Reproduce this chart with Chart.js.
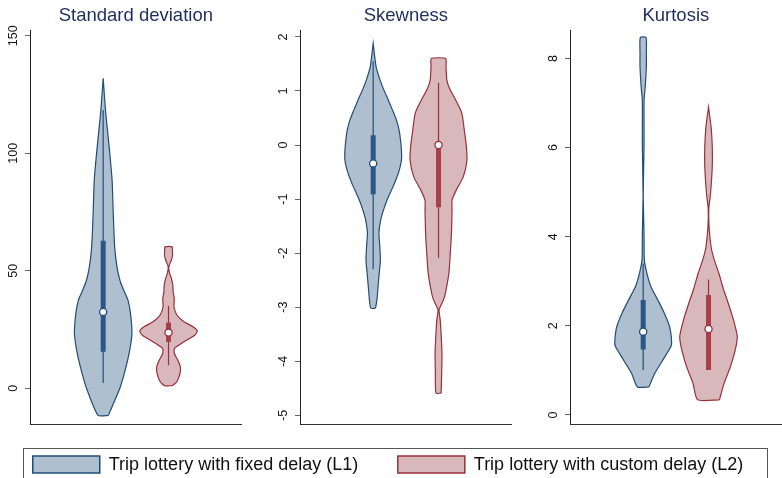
<!DOCTYPE html>
<html>
<head>
<meta charset="utf-8">
<script src="https://cdn.jsdelivr.net/npm/chart.js@4.4.0/dist/chart.umd.min.js"></script>
<style>
  html, body { margin: 0; padding: 0; background: #fff; overflow: hidden; }
  #fig { position: relative; width: 782px; height: 478px; overflow: hidden; background: #fff; }
  .panel { position: absolute; top: 0; }
  #legendFrame { position: absolute; left: 23px; top: 448px; width: 745px; height: 40px;
                 border: 1px solid #555; box-sizing: border-box; }
  #legendWrap { position: absolute; left: -62px; top: 416px; }
</style>
</head>
<body>
<div id="fig">
  <canvas class="panel" id="c0" width="247" height="444" style="left:0px"></canvas>
  <canvas class="panel" id="c1" width="247" height="444" style="left:270px"></canvas>
  <canvas class="panel" id="c2" width="247" height="444" style="left:540px"></canvas>
  <div id="legendFrame"></div>
  <canvas id="legendWrap" width="900" height="300"></canvas>
</div>
<script>
// ---- groups and panels ----
const groups = ['Trip lottery with fixed delay (L1)', 'Trip lottery with custom delay (L2)'];
const panelTitles = ['Standard deviation', 'Skewness', 'Kurtosis'];

// ---- y axis ticks per panel ----
const sdTicks = [0, 50, 100, 150];
const sdTickLabels = ['0', '50', '100', '150'];
const skewTicks = [-5, -4, -3, -2, -1, 0, 1, 2];
const skewTickLabels = ['-5', '-4', '-3', '-2', '-1', '0', '1', '2'];
const kurtTicks = [0, 2, 4, 6, 8];
const kurtTickLabels = ['0', '2', '4', '6', '8'];

// ---- y axis ranges per panel ----
const sdRange = [-15.2, 152.4];
const skewRange = [-5.161, 2.124];
const kurtRange = [-0.202, 8.635];

// ---- kernel density profiles (value levels, density relative to the peak) ----
// box summaries: [lower whisker, q1, median, q3, upper whisker]
const sdFixedLevels  = [-11.5, 0, 8.9, 16, 23.4, 31.9, 37.6, 41.8, 46.1, 51.7, 60.2, 74.4, 88.6, 100, 108.5, 118.4, 131.9];
const sdFixedDensity = [0.18, 0.58, 0.79, 0.92, 1.0, 0.95, 0.86, 0.71, 0.58, 0.48, 0.40, 0.35, 0.31, 0.23, 0.16, 0.08, 0];
const sdFixedBox     = [2.3, 15.5, 32.5, 62.8, 118.4];

const sdCustomLevels  = [1.1, 2.8, 6.4, 9.2, 12, 14.9, 17, 19.8, 22.7, 24.4, 26.2, 28.3, 31.2, 34.7, 38.3, 41.1, 43.9, 46.8, 48.9, 51.7, 54.6, 56.7, 59.5, 60.2];
const sdCustomDensity = [0.13, 0.29, 0.40, 0.41, 0.32, 0.20, 0.21, 0.54, 0.92, 1.0, 0.85, 0.54, 0.29, 0.19, 0.20, 0.16, 0.15, 0.10, 0.04, 0.01, 0.10, 0.14, 0.13, 0.13];
const sdCustomBox     = [9.8, 19.7, 23.7, 28, 35];

const skewFixedLevels  = [-3.02, -2.87, -2.68, -2.43, -2.13, -1.88, -1.63, -1.39, -1.2, -1.02, -0.71, -0.46, -0.22, 0.22, 0.46, 0.65, 0.83, 1.02, 1.2, 1.45, 1.88];
const skewFixedDensity = [0.08, 0.13, 0.16, 0.20, 0.25, 0.23, 0.20, 0.26, 0.36, 0.48, 0.74, 0.91, 0.99, 0.92, 0.81, 0.67, 0.53, 0.37, 0.24, 0.10, 0];
const skewFixedBox     = [-2.3, -0.91, -0.34, 0.18, 1.55];

const skewCustomLevels  = [-4.59, -4.22, -3.86, -3.49, -3.24, -3.05, -2.87, -2.74, -2.37, -2.0, -1.63, -1.2, -1.02, -0.83, -0.59, -0.28, -0.03, 0.22, 0.59, 0.83, 1.05, 1.2, 1.45, 1.6];
const skewCustomDensity = [0.09, 0.11, 0.12, 0.09, 0.06, 0.02, 0.17, 0.24, 0.36, 0.41, 0.45, 0.47, 0.47, 0.62, 0.86, 0.99, 0.97, 0.91, 0.81, 0.60, 0.38, 0.29, 0.26, 0.25];
const skewCustomBox     = [-2.09, -1.15, 0, -0.05, 1.15];

const kurtFixedLevels  = [0.63, 0.93, 1.23, 1.53, 1.64, 1.98, 2.28, 2.58, 2.88, 3.18, 3.48, 4.0, 4.97, 6.08, 7.06, 7.36, 7.81, 8.11, 8.47];
const kurtFixedDensity = [0.20, 0.40, 0.68, 0.96, 0.99, 0.92, 0.74, 0.51, 0.27, 0.13, 0.04, 0.03, 0.003, 0.03, 0.03, 0.07, 0.11, 0.11, 0.10];
const kurtFixedBox     = [1.01, 1.47, 1.87, 2.58, 3.4];

const kurtCustomLevels  = [0.34, 0.71, 1.08, 1.46, 1.76, 2.13, 2.58, 2.8, 3.18, 3.48, 3.77, 4.22, 4.63, 4.97, 5.57, 6.02, 6.46, 6.91];
const kurtCustomDensity = [0.38, 0.54, 0.76, 0.93, 1.0, 0.87, 0.65, 0.53, 0.36, 0.20, 0.09, 0.02, 0.01, 0.07, 0.13, 0.13, 0.09, 0];
const kurtCustomBox     = [1.01, 1.01, 1.93, 2.69, 3.04];

// ---- styling ----
const FONT = "'Liberation Sans', Arial, Helvetica, sans-serif";
const TITLE_COLOR = '#1f2d5c';
const palette = [
  { fill: '#aebfcf', line: '#214d78', box: '#2c5685' },
  { fill: '#d9b8bc', line: '#963039', box: '#a8404a' }
];
const X_MIN = -0.12, X_MAX = 3.12;      // category slots sit at x = 1 and x = 2
const HALF_WIDTH = 0.44;                // half width of a violin at peak density
const TICK_FONT_SIZE = 12.5;
const LABEL_CENTER_GAP = 11.5;          // gap from tick end to the centre of a rotated label

Chart.defaults.font.family = FONT;
Chart.defaults.color = '#111';

function measureWidest(labels) {
  const ctx = document.createElement('canvas').getContext('2d');
  ctx.font = TICK_FONT_SIZE + 'px ' + FONT;
  return Math.max(...labels.map(l => ctx.measureText(l).width));
}

// Datasets with a higher `order` are painted first, so the outline goes
// underneath the whiskers, the box and the median marker.
function violinDatasets(slot, levels, density, box, style) {
  const right = levels.map((y, k) => ({ x: slot + density[k] * HALF_WIDTH, y }));
  const left = levels.map((y, k) => ({ x: slot - density[k] * HALF_WIDTH, y })).reverse();
  return [
    { // density outline
      order: 4,
      data: right.concat(left, [right[0]]),
      showLine: true, fill: 'shape', tension: 0.2,
      backgroundColor: style.fill, borderColor: style.line, borderWidth: 1.2,
      pointRadius: 0
    },
    { // whiskers
      order: 3,
      data: [{ x: slot, y: box[0] }, { x: slot, y: box[4] }],
      showLine: true, fill: false, borderColor: style.line, borderWidth: 1.2, pointRadius: 0
    },
    { // interquartile box
      order: 2,
      data: [{ x: slot, y: box[1] }, { x: slot, y: box[3] }],
      showLine: true, fill: false, borderColor: style.box, borderWidth: 5,
      borderCapStyle: 'butt', pointRadius: 0
    },
    { // median
      order: 1,
      data: [{ x: slot, y: box[2] }],
      showLine: false, pointRadius: 3.6, pointBackgroundColor: '#ffffff',
      pointBorderColor: style.line, pointBorderWidth: 1.3
    }
  ];
}

function makePanel(canvasId, title, range, ticks, tickLabels, series) {
  const datasets = [];
  series.forEach((s, i) => {
    datasets.push(...violinDatasets(i + 1, s.levels, s.density, s.box, palette[i]));
  });
  const pad = LABEL_CENTER_GAP - measureWidest(tickLabels) / 2;
  return new Chart(document.getElementById(canvasId), {
    type: 'scatter',
    data: { datasets },
    options: {
      responsive: false,
      animation: false,
      layout: { padding: 0 },
      plugins: {
        legend: { display: false },
        tooltip: { enabled: false },
        title: {
          display: true, text: title, fullSize: false,
          color: TITLE_COLOR, font: { size: 18.5, weight: 'normal' },
          padding: { top: 5, bottom: 3 }
        }
      },
      scales: {
        x: {
          type: 'linear', min: X_MIN, max: X_MAX,
          grid: { display: false, drawTicks: false },
          ticks: { display: false },
          border: { display: true, color: '#333', width: 1 },
          afterFit: s => { s.height = 20; }
        },
        y: {
          type: 'linear', position: 'left', min: range[0], max: range[1],
          afterFit: s => { s.width = 30; },
          afterBuildTicks: s => { s.ticks = ticks.map(v => ({ value: v })); },
          grid: { display: true, drawOnChartArea: false, drawTicks: true, tickLength: 5, color: '#666' },
          border: { display: true, color: '#222', width: 1 },
          ticks: {
            minRotation: 90, maxRotation: 90, crossAlign: 'center', padding: pad,
            font: { size: TICK_FONT_SIZE }, color: '#111',
            callback: v => tickLabels[ticks.indexOf(v)]
          }
        }
      }
    }
  });
}

makePanel('c0', panelTitles[0], sdRange, sdTicks, sdTickLabels, [
  { levels: sdFixedLevels, density: sdFixedDensity, box: sdFixedBox },
  { levels: sdCustomLevels, density: sdCustomDensity, box: sdCustomBox }
]);
makePanel('c1', panelTitles[1], skewRange, skewTicks, skewTickLabels, [
  { levels: skewFixedLevels, density: skewFixedDensity, box: skewFixedBox },
  { levels: skewCustomLevels, density: skewCustomDensity, box: skewCustomBox }
]);
makePanel('c2', panelTitles[2], kurtRange, kurtTicks, kurtTickLabels, [
  { levels: kurtFixedLevels, density: kurtFixedDensity, box: kurtFixedBox },
  { levels: kurtCustomLevels, density: kurtCustomDensity, box: kurtCustomBox }
]);

// shared legend below the three panels
new Chart(document.getElementById('legendWrap'), {
  type: 'bar',
  data: {
    labels: [],
    datasets: groups.map((g, i) => ({
      label: g, data: [],
      backgroundColor: palette[i].fill, borderColor: palette[i].line, borderWidth: 1.5
    }))
  },
  options: {
    responsive: false,
    animation: false,
    scales: { x: { display: false }, y: { display: false } },
    plugins: {
      tooltip: { enabled: false },
      legend: {
        display: true, position: 'top', maxHeight: 200,
        labels: { boxWidth: 67, boxHeight: 17, padding: 39.6, font: { size: 18 }, color: '#111' }
      }
    }
  }
});
</script>
</body>
</html>
